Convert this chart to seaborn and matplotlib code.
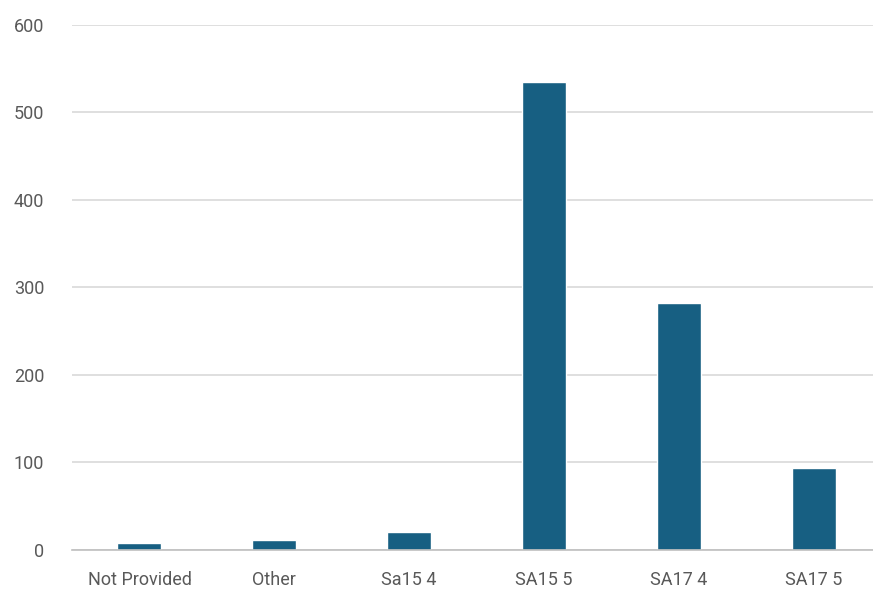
import matplotlib
matplotlib.use("Agg")
import matplotlib.pyplot as plt
import seaborn as sns
import pandas as pd

# Chart data
categories = ["Not Provided", "Other", "Sa15 4", "SA15 5", "SA17 4", "SA17 5"]
counts = [8, 11, 20, 535, 282, 94]
y_ticks = [0, 100, 200, 300, 400, 500, 600]

bar_color = "#175f82"
text_color = "#595959"

sns.set_theme(style="white")
plt.rcParams["font.family"] = ["Roboto", "DejaVu Sans"]

df = pd.DataFrame({"category": categories, "count": counts})

fig = plt.figure(figsize=(8.73, 5.92), dpi=100)
ax = fig.add_axes([0.0825, 0.071, 0.9175, 0.887])

ax.set_axisbelow(True)
ax.yaxis.grid(True, color="#d9d9d9", linewidth=1.2)
ax.xaxis.grid(False)

sns.barplot(data=df, x="category", y="count", color=bar_color,
            width=0.326, saturation=1, ax=ax)

ax.set_ylim(0, 600)
ax.set_xlim(-0.5, 5.44)
ax.set_yticks(y_ticks)
ax.set_xlabel("")
ax.set_ylabel("")

for side in ["top", "right", "left"]:
    ax.spines[side].set_visible(False)
ax.spines["bottom"].set_color("#bfbfbf")
ax.spines["bottom"].set_linewidth(1.2)

ax.tick_params(axis="both", length=0, labelsize=13, colors=text_color)
ax.tick_params(axis="y", pad=20)
ax.tick_params(axis="x", pad=15)

fig.savefig("out.png", dpi=100)
